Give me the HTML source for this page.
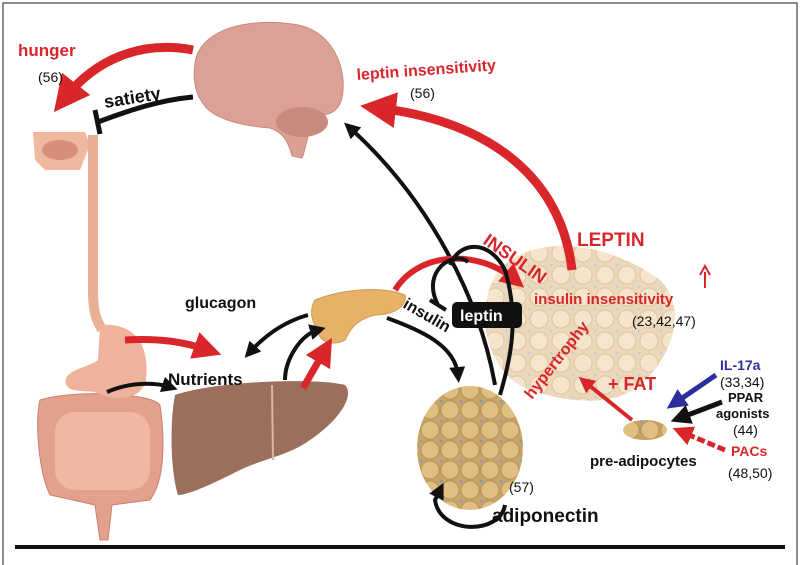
<!DOCTYPE html>
<html><head><meta charset="utf-8"><style>
html,body{margin:0;padding:0;background:#fff;width:800px;height:565px;overflow:hidden}
svg{display:block}
text{font-family:"Liberation Sans",Arial,sans-serif;font-weight:bold}
</style></head><body>
<svg width="800" height="565" viewBox="0 0 800 565" xmlns="http://www.w3.org/2000/svg">
<defs>
<marker id="rh" markerWidth="4" markerHeight="4" refX="2" refY="2" orient="auto" markerUnits="strokeWidth"><path d="M0,0 L4,2 L0,4 Z" fill="#d9262b"/></marker>
<marker id="bh" markerWidth="4" markerHeight="4" refX="2" refY="2" orient="auto" markerUnits="strokeWidth"><path d="M0,0 L4,2 L0,4 Z" fill="#111"/></marker>
<marker id="uh" markerWidth="4" markerHeight="4" refX="2" refY="2" orient="auto" markerUnits="strokeWidth"><path d="M0,0 L4,2 L0,4 Z" fill="#2b2f9c"/></marker>
<pattern id="fat" width="22" height="22" patternUnits="userSpaceOnUse"><rect width="22" height="22" fill="#e9d3b1"/><circle cx="11" cy="11" r="9" fill="#f3e2c6" stroke="#d8bf97"/><circle cx="0" cy="0" r="2.5" fill="#b9c9dd"/></pattern>
<pattern id="fat2" width="20" height="20" patternUnits="userSpaceOnUse"><rect width="20" height="20" fill="#c9a466"/><circle cx="10" cy="10" r="9" fill="#e0bf82" stroke="#b8935a"/><circle cx="0" cy="0" r="3" fill="#7ea0c0"/></pattern>
</defs>
<rect x="3" y="3" width="794" height="570" fill="none" stroke="#666" stroke-width="1.5"/>
<line x1="15" y1="547" x2="785" y2="547" stroke="#111" stroke-width="4"/>

<!-- brain -->
<path d="M196,58 C205,28 250,18 292,24 C332,28 348,68 342,98 C338,114 325,116 318,114 C308,126 306,150 302,158 L292,156 C288,140 282,132 270,128 C245,126 212,120 202,102 C193,90 193,72 196,58Z" fill="#dca196" stroke="#c88a7e"/>
<ellipse cx="302" cy="122" rx="26" ry="15" fill="#c88a7e"/>

<!-- esophagus / head -->
<path d="M33,132 L85,132 L90,145 L80,170 L45,170 L35,160 Z" fill="#efb9a0"/>
<ellipse cx="60" cy="150" rx="18" ry="10" fill="#d88f78"/>
<path d="M93,135 L93,290 C93,315 97,320 102,330" fill="none" stroke="#eab096" stroke-width="10"/>
<!-- intestines -->
<path d="M40,400 C70,390 150,392 160,405 C165,440 165,480 150,500 L112,505 L108,540 L100,540 L95,505 L50,495 C38,470 35,420 40,400Z" fill="#e3a08c" stroke="#c98070"/>
<rect x="55" y="412" width="95" height="78" rx="20" fill="#f0b8a3"/>
<!-- stomach -->
<path d="M100,325 C135,322 150,345 146,380 C142,400 115,402 95,392 C75,390 70,392 66,384 C62,370 88,368 98,360 Z" fill="#efb39b"/>

<!-- liver -->
<path d="M175,395 C220,380 320,378 345,385 C355,395 340,420 310,440 C290,455 260,460 240,470 C220,480 190,495 178,495 C170,470 170,420 175,395Z" fill="#9c6e5c"/>
<line x1="272" y1="385" x2="273" y2="460" stroke="#d7b99c" stroke-width="2"/>

<!-- pancreas -->
<path d="M315,300 C340,290 380,285 405,295 C408,305 395,315 375,315 C355,320 350,330 345,340 C335,345 320,345 318,330 C310,320 310,308 315,300Z" fill="#e6b267" stroke="#d09a50"/>

<!-- big adipose -->
<path d="M520,255 C560,235 620,250 660,280 C690,310 670,360 640,385 C610,410 560,400 530,390 C500,380 485,345 485,320 C485,290 495,265 520,255Z" fill="url(#fat)" opacity="0.9"/>
<!-- small adipose -->
<ellipse cx="470" cy="448" rx="53" ry="62" fill="url(#fat2)"/>
<!-- pre-adipocytes -->
<ellipse cx="645" cy="430" rx="22" ry="10" fill="url(#fat2)"/>

<!-- arrows -->
<path d="M193,50 C140,40 95,60 65,98" fill="none" stroke="#d9262b" stroke-width="9" marker-end="url(#rh)"/>
<path d="M193,97 C160,100 130,110 98,122" fill="none" stroke="#111" stroke-width="5"/>
<line x1="95" y1="110" x2="100" y2="134" stroke="#111" stroke-width="5"/>
<path d="M572,270 C560,170 480,120 378,108" fill="none" stroke="#d9262b" stroke-width="9" marker-end="url(#rh)"/>
<path d="M495,385 C480,300 430,200 350,128" fill="none" stroke="#111" stroke-width="4" marker-end="url(#bh)"/>
<path d="M395,290 C420,250 480,250 515,280" fill="none" stroke="#d9262b" stroke-width="6" marker-end="url(#rh)"/>
<path d="M438,305 C420,270 455,250 468,262" fill="none" stroke="#111" stroke-width="4"/>
<path d="M450,265 C460,240 490,240 505,270 C520,320 510,360 500,395" fill="none" stroke="#111" stroke-width="4"/>
<line x1="430" y1="300" x2="446" y2="310" stroke="#111" stroke-width="4"/>
<path d="M387,318 C420,330 455,345 458,375" fill="none" stroke="#111" stroke-width="4" marker-end="url(#bh)"/>
<path d="M505,505 C500,535 440,535 435,500 L440,490" fill="none" stroke="#111" stroke-width="4" marker-end="url(#bh)"/>
<path d="M308,315 C290,320 270,330 250,352" fill="none" stroke="#111" stroke-width="4" marker-end="url(#bh)"/>
<path d="M125,340 C160,338 185,342 208,350" fill="none" stroke="#d9262b" stroke-width="7" marker-end="url(#rh)"/>
<path d="M107,392 C130,382 155,382 170,387" fill="none" stroke="#111" stroke-width="4" marker-end="url(#bh)"/>
<path d="M285,380 C285,360 300,335 318,330" fill="none" stroke="#111" stroke-width="4" marker-end="url(#bh)"/>
<path d="M303,388 L325,350" fill="none" stroke="#d9262b" stroke-width="7" marker-end="url(#rh)"/>
<path d="M632,420 L585,382" fill="none" stroke="#d9262b" stroke-width="4" marker-end="url(#rh)"/>
<path d="M716,375 L675,403" fill="none" stroke="#2b2f9c" stroke-width="5" marker-end="url(#uh)"/>
<path d="M722,402 L680,418" fill="none" stroke="#111" stroke-width="5" marker-end="url(#bh)"/>
<path d="M725,450 L682,432" fill="none" stroke="#d9262b" stroke-width="5" stroke-dasharray="8,3" marker-end="url(#rh)"/>
<path d="M705,288 L705,272" stroke="#d9262b" stroke-width="2"/><path d="M700,275 L705,266 L710,275" fill="none" stroke="#d9262b" stroke-width="2"/>

<!-- labels -->
<text x="18" y="56" font-size="17" fill="#d9262b">hunger</text>
<text x="38" y="82" font-size="14" fill="#111" style="font-weight:normal">(56)</text>
<text x="105" y="108" font-size="18" fill="#111" transform="rotate(-9 105 108)">satiety</text>
<text x="357" y="80" font-size="16" fill="#d9262b" transform="rotate(-4 357 80)">leptin insensitivity</text>
<text x="410" y="98" font-size="14" fill="#111" style="font-weight:normal">(56)</text>
<text x="577" y="246" font-size="19" fill="#d9262b">LEPTIN</text>
<text x="482" y="243" font-size="18" fill="#d9262b" transform="rotate(35 482 243)">INSULIN</text>
<rect x="452" y="302" width="70" height="26" rx="5" fill="#111"/>
<text x="460" y="321" font-size="16" fill="#fff">leptin</text>
<text x="402" y="307" font-size="16" fill="#111" transform="rotate(30 402 307)">insulin</text>
<text x="185" y="308" font-size="16" fill="#111">glucagon</text>
<text x="168" y="385" font-size="17" fill="#111">Nutrients</text>
<text x="534" y="304" font-size="15" fill="#d9262b">insulin insensitivity</text>
<text x="632" y="326" font-size="14" fill="#111" style="font-weight:normal">(23,42,47)</text>
<text x="532" y="400" font-size="16" fill="#d9262b" transform="rotate(-52 532 400)">hypertrophy</text>
<text x="608" y="390" font-size="18" fill="#d9262b">+ FAT</text>
<text x="590" y="466" font-size="15" fill="#111">pre-adipocytes</text>
<text x="720" y="370" font-size="14" fill="#2b2f9c">IL-17a</text>
<text x="720" y="387" font-size="14" fill="#111" style="font-weight:normal">(33,34)</text>
<text x="728" y="402" font-size="13" fill="#111">PPAR</text>
<text x="716" y="418" font-size="13" fill="#111">agonists</text>
<text x="733" y="435" font-size="14" fill="#111" style="font-weight:normal">(44)</text>
<text x="731" y="456" font-size="14" fill="#d9262b">PACs</text>
<text x="728" y="478" font-size="14" fill="#111" style="font-weight:normal">(48,50)</text>
<text x="509" y="492" font-size="14" fill="#111" style="font-weight:normal">(57)</text>
<text x="492" y="522" font-size="19" fill="#111">adiponectin</text>
</svg>
</body></html>
